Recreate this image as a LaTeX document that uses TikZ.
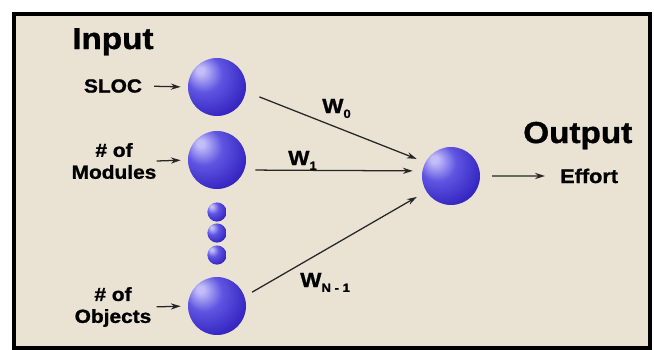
\documentclass[tikz,border=0pt]{standalone}
\usepackage{fontspec}
\setmainfont{Liberation Sans}[FakeStretch=1.1, BoldFeatures={FakeBold=1.2}]
\usepackage{tikz}
\usetikzlibrary{arrows.meta,positioning,calc}

\definecolor{panelbg}{RGB}{234,227,212}
\definecolor{orbhigh}{RGB}{195,190,250}
\definecolor{orbmid}{RGB}{95,85,225}
\definecolor{orbblue}{RGB}{55,40,195}
\definecolor{orbdark}{RGB}{30,15,140}
\pgfdeclareradialshading{orb}{\pgfpoint{-15bp}{15bp}}{%
    color(0bp)=(orbhigh); color(3bp)=(orbhigh); color(16bp)=(orbmid);
    color(33bp)=(orbblue); color(54bp)=(orbdark); color(70bp)=(orbdark)}

\newcommand{\wsub}[1]{\raisebox{-3.5pt}{\fontsize{8.5}{9}\selectfont #1}}

\begin{document}
\begin{tikzpicture}[
    x=0.025cm,
    y=-0.025cm,
    orb/.style={
        circle,
        shading=orb,
        minimum size=1.45cm,
        inner sep=0pt
    },
    smallorb/.style={
        orb,
        minimum size=0.48cm
    },
    heading/.style={
        font=\fontsize{21.5}{25}\selectfont\bfseries,
        inner sep=0pt
    },
    term/.style={
        font=\fontsize{13.5}{15.6}\selectfont\bfseries,
        align=center,
        inner sep=0pt
    },
    weight/.style={
        font=\fontsize{14.5}{16}\selectfont\bfseries,
        inner sep=0pt,
        anchor=base west
    },
    feed/.style={
        -{Stealth[length=7pt,width=4.4pt]},
        line width=0.9pt,
        draw=black!85
    }
]

% --- Panel ---
\useasboundingbox (0,0) rectangle (654,350);
\fill[panelbg] (14,14) rectangle (650,348);
\draw[line width=2.9pt] (14,14) rectangle (650,348);

% --- Input layer ---
\node[heading, anchor=base west] (input) at (72,49) {Input};
\node[orb] (in0) at (217,87) {};
\node[orb] (in1) at (217,160) {};
\foreach \y [count=\i] in {212,233,255}
    \node[smallorb] (dot\i) at (217,\y) {};
\node[orb] (inN) at (217,306) {};

\node[term] (sloc) at (113,86) {SLOC};
\node[term] (modules) at (114,161) {\# of\\Modules};
\node[term] (objects) at (113,307) {\# of\\Objects};

\draw[feed, shorten <=8.5pt, shorten >=5pt] (sloc.east) -- (in0.west);
\draw[feed, shorten >=5pt] (modules.east) -- (in1.west);
\draw[feed, shorten <=3.6pt, shorten >=5pt] (objects.east) -- (inN.west);

% --- Output layer ---
\node[orb] (out) at (451,176) {};
\node[heading, anchor=base west] (output) at (523,143) {Output};
\node[term, font=\fontsize{14}{16}\selectfont\bfseries, anchor=base west] (effort) at (560,183) {Effort};
\draw[feed, shorten <=8.5pt, shorten >=10.7pt] (out.east) -- (effort.west);

% --- Weighted connections ---
\draw[feed, shorten <=10.3pt, shorten >=6.5pt] (in0.-9) -- (out.152);
\draw[feed, shorten <=7.8pt, shorten >=6.7pt] (in1.-20) -- (out.170);
\draw[feed, shorten <=6.1pt, shorten >=7.7pt] (inN.19) -- (out.212);

\node[weight] (w0) at (322,113) {W\wsub{0}};
\node[weight] (w1) at (288,165) {W\wsub{1}};
\node[weight] (wn) at (300,287) {W\wsub{N - 1}};

\end{tikzpicture}
\end{document}
